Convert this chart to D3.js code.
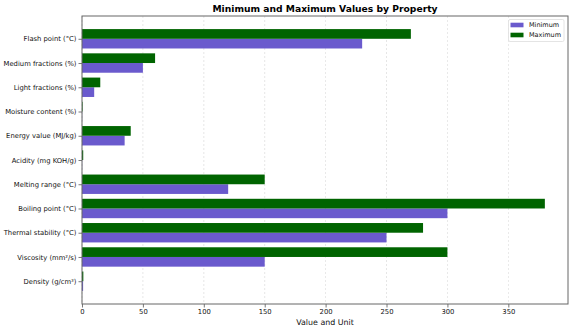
<!DOCTYPE html>
<html><head><meta charset="utf-8">
<script src="https://cdn.jsdelivr.net/npm/d3@7"></script>
<style>body{margin:0;background:#fff;} svg{display:block;font-family:"DejaVu Sans",sans-serif;}</style>
</head><body>
<svg id="c" width="572" height="332"></svg>
<script>
const categories = ["Density (g/cm³)","Viscosity (mm²/s)","Thermal stability (°C)","Boiling point (°C)","Melting range (°C)","Acidity (mg KOH/g)","Energy value (MJ/kg)","Moisture content (%)","Light fractions (%)","Medium fractions (%)","Flash point (°C)"];
const minValues = [0.9, 150, 250, 300, 120, 0.1, 35, 0.1, 10, 50, 230];
const maxValues = [1.1, 300, 280, 380, 150, 1, 40, 0.5, 15, 60, 270];
const xTicks = [0, 50, 100, 150, 200, 250, 300, 350];
const seriesNames = ["Minimum", "Maximum"];
const colors = ["#6a5acd", "#006400"];

const svg = d3.select("#c");
const L = 82, R = 568, T = 16, B = 304;
const barH = 0.4;
const n = categories.length;
const xMax = d3.max(maxValues) * 1.05;
const x = d3.scaleLinear().domain([0, xMax]).range([L, R]);
const pad = 0.05 * (n - 1 + 2 * barH);
const y = d3.scaleLinear().domain([-barH - pad, n - 1 + barH + pad]).range([B, T]);

// grid
svg.append("g").selectAll("line").data(xTicks).join("line")
  .attr("x1", d => x(d)).attr("x2", d => x(d)).attr("y1", T).attr("y2", B)
  .attr("stroke", "#ccc").attr("stroke-width", 0.6).attr("stroke-dasharray", "2,2").attr("opacity", 0.8);

// bars
const series = [minValues, maxValues];
series.forEach((vals, s) => {
  const off = s === 0 ? -barH / 2 : barH / 2;
  svg.append("g").selectAll("rect").data(vals).join("rect")
    .attr("x", x(0))
    .attr("y", (d, i) => y(i + off + barH / 2))
    .attr("width", d => x(d) - x(0))
    .attr("height", (d, i) => y(i + off - barH / 2) - y(i + off + barH / 2))
    .attr("fill", colors[s]);
});

// axes
const xAxis = svg.append("g").attr("transform", `translate(0,${B})`)
  .call(d3.axisBottom(x).tickValues(xTicks).tickSize(3.5).tickPadding(2).tickFormat(d3.format("d")));
const yAxis = svg.append("g").attr("transform", `translate(${L},0)`)
  .call(d3.axisLeft(y).tickValues(d3.range(n)).tickSize(3.5).tickPadding(2).tickFormat(i => categories[i]));
[xAxis, yAxis].forEach(a => {
  a.select(".domain").remove();
  a.selectAll("line").attr("stroke", "#555").attr("stroke-width", 0.8);
  a.selectAll("text").attr("font-size", 6.8).attr("fill", "#111").attr("font-family", "DejaVu Sans");
});

// frame
svg.append("rect").attr("x", L).attr("y", T).attr("width", R - L).attr("height", B - T)
  .attr("fill", "none").attr("stroke", "#666").attr("stroke-width", 1);

// title & label
svg.append("text").attr("x", (L + R) / 2).attr("y", 12).attr("text-anchor", "middle")
  .attr("font-size", 9.2).attr("font-weight", "bold").attr("fill", "#000").text("Minimum and Maximum Values by Property");
svg.append("text").attr("x", (L + R) / 2).attr("y", 325).attr("text-anchor", "middle")
  .attr("font-size", 7.9).attr("fill", "#111").text("Value and Unit");

// legend
const lg = svg.append("g");
lg.append("rect").attr("x", 508.5).attr("y", 19.5).attr("width", 55.5).attr("height", 22)
  .attr("fill", "#fff").attr("stroke", "#ddd").attr("stroke-width", 0.8).attr("rx", 1.5);
seriesNames.forEach((nm, i) => {
  const cy = 25 + i * 10;
  lg.append("rect").attr("x", 510.5).attr("y", cy - 2.3).attr("width", 13).attr("height", 4.6).attr("fill", colors[i]);
  lg.append("text").attr("x", 529).attr("y", cy).attr("dy", "0.35em").attr("font-size", 6.5).attr("fill", "#111").text(nm);
});
</script>
</body></html>
